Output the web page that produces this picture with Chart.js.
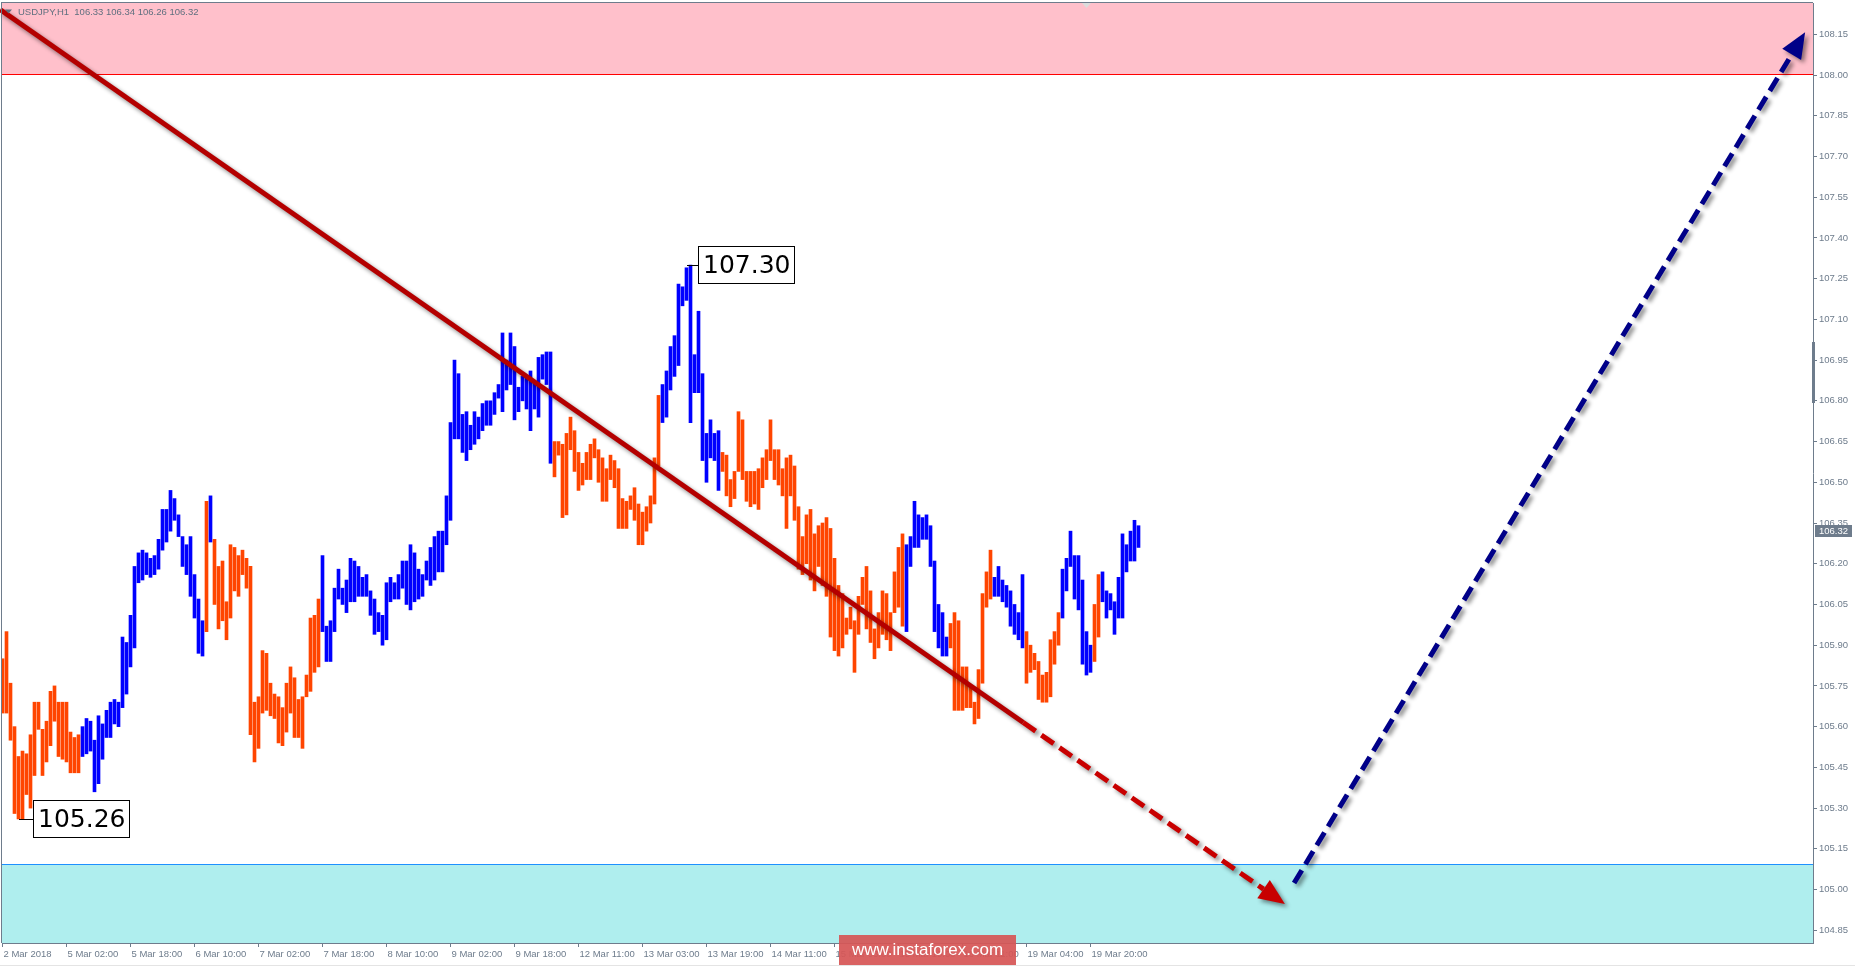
<!DOCTYPE html>
<html><head><meta charset="utf-8">
<script src="https://cdn.jsdelivr.net/npm/chart.js@4.4.1/dist/chart.umd.min.js"></script>
<style>html,body{margin:0;padding:0;background:#fff;overflow:hidden}canvas{display:block}</style>
</head><body>
<canvas id="c" width="1855" height="967"></canvas>
<script>
// ---------------- data ----------------
const symbol = 'USDJPY,H1';
const lastOHLC = ['106.33', '106.34', '106.26', '106.32'];
const lastPrice = 106.32;

const highs = [
105.85,105.95,105.76,105.60,105.49,105.51,105.50,105.57,105.69,105.69,
105.59,105.62,105.73,105.75,105.69,105.69,105.69,105.58,105.56,105.57,
105.60,105.63,105.62,105.55,105.64,105.61,105.66,105.69,105.70,105.69,
105.93,105.91,106.01,106.19,106.24,106.25,106.24,106.22,106.23,106.29,
106.40,106.40,106.47,106.44,106.38,106.30,106.27,106.30,106.16,106.07,
105.99,106.43,106.45,106.29,106.19,106.21,106.06,106.27,106.26,106.23,
106.25,106.22,106.19,105.69,105.71,105.88,105.87,105.76,105.72,105.71,
105.67,105.76,105.82,105.78,105.70,105.71,105.79,106.00,106.01,106.07,
106.23,105.97,105.99,106.11,106.18,106.11,106.14,106.22,106.21,106.19,
106.15,106.16,106.10,106.07,106.02,106.01,106.13,106.15,106.13,106.16,
106.21,106.21,106.27,106.24,106.18,106.16,106.21,106.26,106.30,106.32,
106.32,106.45,106.72,106.95,106.90,106.75,106.76,106.71,106.76,106.74,
106.79,106.80,106.80,106.83,106.86,107.05,106.95,107.05,107.00,106.85,
106.89,106.89,106.91,106.87,106.96,106.97,106.98,106.98,106.65,106.65,
106.64,106.68,106.74,106.69,106.61,106.57,106.61,106.64,106.66,106.62,
106.59,106.55,106.60,106.58,106.55,106.44,106.43,106.45,106.48,106.42,
106.39,106.41,106.45,106.59,106.82,106.86,106.91,107.00,107.04,107.23,
107.22,107.29,107.30,106.97,107.13,106.90,106.68,106.73,106.68,106.69,
106.61,106.60,106.51,106.54,106.76,106.73,106.54,106.54,106.54,106.55,
106.59,106.62,106.73,106.62,106.62,106.55,106.59,106.60,106.56,106.41,
106.30,106.38,106.40,106.31,106.34,106.35,106.37,106.33,106.22,106.12,
106.09,106.00,106.04,105.99,106.08,106.15,106.19,106.10,105.96,106.02,
106.10,106.09,106.02,106.17,106.26,106.31,106.27,106.30,106.43,106.38,
106.37,106.38,106.34,106.21,106.05,106.02,105.93,105.98,106.02,105.99,
105.82,105.82,105.75,105.69,105.81,106.09,106.17,106.25,106.15,106.19,
106.14,106.12,106.10,106.05,106.02,106.16,105.95,105.90,105.87,105.84,
105.79,105.80,105.92,105.95,106.02,106.18,106.22,106.32,106.23,106.23,
106.14,105.95,105.90,106.05,106.16,106.17,106.10,106.09,106.06,106.15,
106.31,106.27,106.32,106.36,106.34
];
const lows = [
105.65,105.65,105.55,105.28,105.26,105.26,105.35,105.30,105.42,105.59,
105.42,105.47,105.53,105.62,105.49,105.48,105.47,105.43,105.43,105.43,
105.49,105.50,105.51,105.36,105.39,105.48,105.56,105.56,105.61,105.60,
105.67,105.72,105.82,105.89,106.13,106.14,106.16,106.15,106.16,106.18,
106.25,106.28,106.32,106.36,106.30,106.19,106.16,106.08,106.00,105.87,
105.86,105.95,106.28,106.05,105.96,105.99,105.92,106.00,106.10,106.08,
106.16,106.11,105.57,105.47,105.52,105.65,105.66,105.64,105.63,105.54,
105.53,105.58,105.65,105.56,105.56,105.52,105.71,105.73,105.80,105.82,
105.95,105.84,105.84,105.95,106.07,106.05,106.02,106.06,106.06,106.08,
106.08,106.08,106.01,105.94,105.95,105.90,105.92,106.06,106.07,106.07,
106.11,106.05,106.03,106.06,106.07,106.08,106.14,106.12,106.14,106.17,
106.17,106.27,106.36,106.66,106.66,106.61,106.58,106.62,106.64,106.66,
106.69,106.71,106.71,106.75,106.81,106.76,106.84,106.86,106.73,106.76,
106.80,106.77,106.69,106.77,106.74,106.88,106.86,106.57,106.52,106.60,
106.37,106.38,106.62,106.54,106.47,106.49,106.51,106.51,106.59,106.50,
106.43,106.43,106.51,106.48,106.33,106.33,106.33,106.40,106.36,106.27,
106.27,106.32,106.35,106.42,106.56,106.72,106.74,106.84,106.89,106.93,
107.15,107.17,106.72,106.83,106.83,106.58,106.50,106.59,106.58,106.47,
106.54,106.45,106.41,106.44,106.54,106.51,106.43,106.41,106.42,106.40,
106.48,106.51,106.58,106.51,106.49,106.45,106.33,106.45,106.36,106.18,
106.16,106.20,106.14,106.10,106.19,106.12,106.08,105.93,105.88,105.86,
105.89,105.94,105.96,105.80,105.94,106.05,105.96,105.91,105.85,105.89,
105.94,105.92,105.88,106.02,106.04,105.97,105.95,106.19,106.26,106.26,
106.29,106.29,106.19,105.95,105.89,105.86,105.86,105.89,105.66,105.66,
105.66,105.67,105.67,105.61,105.63,105.76,106.04,106.07,106.08,106.08,
106.06,106.04,105.97,105.94,105.92,105.89,105.76,105.80,105.81,105.70,
105.69,105.69,105.71,105.83,105.90,106.00,106.10,106.19,106.07,106.03,
105.83,105.79,105.80,105.84,105.93,106.06,106.00,106.03,105.94,106.00,
106.00,106.17,106.21,106.21,106.26
];
// wave colouring of the bars: [direction, number of bars]
const trendRuns = [
  ['down',20],['up',31],['down',1],['up',1],['down',27],['up',58],['down',27],['up',15],
  ['down',46],['up',11],['down',11],['up',8],['down',9],['up',8],['down',2],['up',10]
];
const xTickLabels = ['2 Mar 2018','5 Mar 02:00','5 Mar 18:00','6 Mar 10:00','7 Mar 02:00','7 Mar 18:00',
  '8 Mar 10:00','9 Mar 02:00','9 Mar 18:00','12 Mar 11:00','13 Mar 03:00','13 Mar 19:00','14 Mar 11:00',
  '15 Mar 03:00','15 Mar 19:00','16 Mar 11:00','19 Mar 04:00','19 Mar 20:00'];
const barsPerXTick = 16;
const yTickLabels = ['104.85','105.00','105.15','105.30','105.45','105.60','105.75','105.90','106.05',
  '106.20','106.35','106.50','106.65','106.80','106.95','107.10','107.25','107.40','107.55','107.70',
  '107.85','108.00','108.15'];
const resistanceZoneFrom = 108.00;
const supportZoneTo = 105.095;
// forecast waves: points as [bar index, price]
const redWave = [[-0.6, 108.241], [255.2, 105.615], [320.6, 104.947]];
const blueWave = [[322.9, 105.024], [450.65, 108.158]];
const extremes = [
  {bar: 172, price: 107.30, text: '107.30'},
  {bar: 5, price: 105.26, text: '105.26'}
];
const watermarkText = 'www.instaforex.com';

// ---------------- styling ----------------
const AXIS = '#6e7c8c';
const UP = '#0000ff', DOWN = '#ff4500';
const trend = [];
trendRuns.forEach(([t, n]) => { for (let k = 0; k < n; k++) trend.push(t); });
const barColors = trend.map(t => t === 'up' ? UP : DOWN);
const labelDx = [7, 10];

function arrow(ctx, pts, solidSegments, color, lineColor) {
  const headLen = 26, halfW = 11;
  const n = pts.length;
  const tip = pts[n - 1], prev = pts[n - 2];
  const dx = tip[0] - prev[0], dy = tip[1] - prev[1];
  const L = Math.hypot(dx, dy), ux = dx / L, uy = dy / L;
  const base = [tip[0] - ux * headLen, tip[1] - uy * headLen];
  ctx.save();
  ctx.shadowColor = 'rgba(0,0,0,0.45)';
  ctx.shadowBlur = 4; ctx.shadowOffsetX = 3; ctx.shadowOffsetY = 3;
  ctx.lineWidth = 5; ctx.lineCap = 'butt';
  for (let s = 0; s < n - 1; s++) {
    const a = pts[s];
    const b = (s === n - 2) ? base : pts[s + 1];
    ctx.beginPath();
    ctx.setLineDash(s < solidSegments ? [] : [15, 7]);
    ctx.strokeStyle = s < solidSegments ? lineColor : color;
    ctx.moveTo(a[0], a[1]); ctx.lineTo(b[0], b[1]); ctx.stroke();
  }
  ctx.setLineDash([]);
  ctx.fillStyle = color;
  ctx.beginPath();
  ctx.moveTo(tip[0], tip[1]);
  ctx.lineTo(base[0] - uy * halfW, base[1] + ux * halfW);
  ctx.lineTo(base[0] + uy * halfW, base[1] - ux * halfW);
  ctx.closePath(); ctx.fill();
  ctx.restore();
}

const overlay = {
  id: 'overlay',
  beforeDraw(chart) {
    const {ctx, chartArea: a, scales: {y}} = chart;
    ctx.save();
    ctx.fillStyle = '#fff'; ctx.fillRect(0, 0, chart.width, chart.height);
    const yr = Math.round(y.getPixelForValue(resistanceZoneFrom));
    ctx.fillStyle = '#ffc0cb'; ctx.fillRect(a.left, a.top, a.right - a.left, yr - a.top);
    ctx.fillStyle = '#ff0000'; ctx.fillRect(a.left, yr - 1, a.right - a.left, 1);
    const ys = Math.round(y.getPixelForValue(supportZoneTo));
    ctx.fillStyle = '#afeeee'; ctx.fillRect(a.left, ys, a.right - a.left, a.bottom - ys);
    ctx.fillStyle = '#1e90ff'; ctx.fillRect(a.left, ys, a.right - a.left, 1);
    ctx.restore();
  },
  afterDatasetsDraw(chart) {
    const {ctx, scales: {x, y}} = chart;
    const px = p => [x.getPixelForValue(p[0]), y.getPixelForValue(p[1])];
    arrow(ctx, redWave.map(px), 1, '#c80000', '#b40000');
    arrow(ctx, blueWave.map(px), 0, '#000088', '#000088');
    ctx.save();
    ctx.font = '25px "DejaVu Sans"';
    ctx.textBaseline = 'middle';
    extremes.forEach((e, k) => {
      const bx = x.getPixelForValue(e.bar), by = Math.round(y.getPixelForValue(e.price));
      const left = Math.round(bx + labelDx[k]);
      const w = Math.round(ctx.measureText(e.text).width + 10), h = 38;
      ctx.fillStyle = '#000';
      ctx.fillRect(Math.round(bx - 4), by, left - Math.round(bx - 4), 1);
      ctx.fillStyle = '#fff';
      ctx.fillRect(left, by - 19, w, h);
      ctx.strokeStyle = '#000'; ctx.lineWidth = 1;
      ctx.strokeRect(left + 0.5, by - 19 + 0.5, w - 1, h - 1);
      ctx.fillStyle = '#000';
      ctx.fillText(e.text, left + 5, by + 1);
    });
    ctx.restore();
  },
  afterDraw(chart) {
    const {ctx, chartArea: a, scales: {y}} = chart;
    ctx.save();
    // frame
    ctx.fillStyle = AXIS;
    ctx.fillRect(1, 2, a.right - 1, 1);
    ctx.fillRect(1, 2, 1, a.bottom - 2);
    // scroll marker on the price axis
    ctx.fillRect(a.right - 1, 342, 3, 61);
    // shift marker
    ctx.fillStyle = '#dcdcdc';
    ctx.beginPath(); ctx.moveTo(1082, 3); ctx.lineTo(1091, 3); ctx.lineTo(1086.5, 8); ctx.closePath(); ctx.fill();
    // header
    ctx.fillStyle = '#5f6f7f';
    ctx.beginPath(); ctx.moveTo(5, 9.5); ctx.lineTo(12, 9.5); ctx.lineTo(8.5, 13.5); ctx.closePath(); ctx.fill();
    ctx.font = '9.5px "Liberation Sans"';
    ctx.textBaseline = 'middle';
    ctx.fillText(symbol + '  ' + lastOHLC.join(' '), 18, 12);
    // current price label
    const py = Math.round(y.getPixelForValue(lastPrice));
    ctx.fillStyle = AXIS;
    ctx.fillRect(a.right + 2, py - 6, 37, 12);
    ctx.fillStyle = '#fff';
    ctx.fillText(lastPrice.toFixed(2), a.right + 6, py + 0.5);
    // bottom separator
    ctx.fillStyle = '#e4e4e4';
    ctx.fillRect(0, 965, chart.width, 1);
    // watermark
    ctx.fillStyle = 'rgba(214,86,86,0.93)';
    ctx.fillRect(839, 935, 177, 30);
    ctx.fillStyle = '#fff';
    ctx.font = '17px "Liberation Sans"';
    ctx.textAlign = 'center';
    ctx.fillText(watermarkText, 927.5, 950.5);
    ctx.restore();
  }
};

const tickFont = {family: '"Liberation Sans"', size: 9.5};

new Chart(document.getElementById('c'), {
  type: 'bar',
  data: {
    datasets: [{
      data: highs.map((h, i) => ({x: i, y: [lows[i], h]})),
      backgroundColor: barColors,
      borderWidth: 0,
      barThickness: 3
    }]
  },
  options: {
    responsive: false,
    animation: false,
    devicePixelRatio: 1,
    layout: {padding: {left: 2, top: 3, right: 0, bottom: 0}},
    plugins: {legend: {display: false}, tooltip: {enabled: false}},
    scales: {
      x: {
        type: 'linear', min: -0.125, max: 452.625, offset: false,
        grid: {drawOnChartArea: false, drawTicks: true, tickLength: 4, color: AXIS, tickColor: AXIS, offset: false},
        border: {display: true, color: AXIS},
        ticks: {autoSkip: false, maxRotation: 0, minRotation: 0, align: 'start', padding: 2, labelOffset: 1,
          color: AXIS, font: tickFont, callback: (v, i) => xTickLabels[i]},
        afterBuildTicks: s => { s.ticks = xTickLabels.map((l, k) => ({value: k * barsPerXTick})); },
        afterFit: s => { s.height = 24; s.paddingLeft = 0; s.paddingRight = 0; }
      },
      y: {
        position: 'right', min: 104.8031, max: 108.2653,
        grid: {drawOnChartArea: false, drawTicks: true, tickLength: 4, color: AXIS, tickColor: AXIS},
        border: {display: true, color: AXIS},
        ticks: {padding: 2, color: AXIS, font: tickFont, callback: (v, i) => yTickLabels[i]},
        afterBuildTicks: s => { s.ticks = yTickLabels.map(t => ({value: parseFloat(t)})); },
        afterFit: s => { s.width = 42; s.paddingTop = 0; s.paddingBottom = 0; }
      }
    }
  },
  plugins: [overlay]
});
</script>
</body></html>
